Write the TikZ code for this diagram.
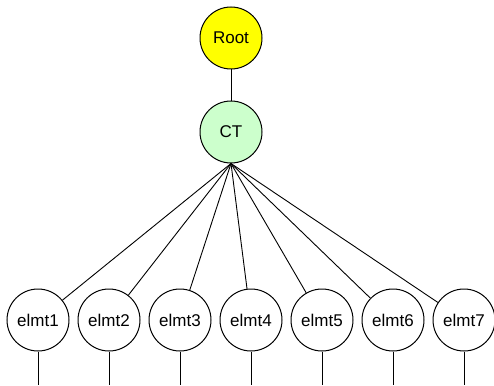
\documentclass[tikz,border=0pt]{standalone}
\usepackage{fontspec}
\setmainfont{Liberation Sans}
\definecolor{rootyellow}{RGB}{255,255,0}
\definecolor{ctgreen}{RGB}{204,255,204}
\begin{document}
\begin{tikzpicture}[x=1pt,y=-1pt,
  vertex/.style={circle,draw=black,line width=1pt,minimum size=62pt,inner sep=0pt,fill=white,font=\fontsize{17}{20}\selectfont},
  edge/.style={line width=0.9pt}]
\useasboundingbox (0,0) rectangle (494,385);
\node[vertex,fill=rootyellow] (root) at (231,38) {Root};
\node[vertex,fill=ctgreen] (ct) at (231,132) {CT};
\draw[edge] (root) -- (ct);
\foreach \i/\x in {1/38,2/109,3/180,4/251,5/322,6/393,7/464}{
  \node[vertex] (e\i) at (\x,320) {elmt\i};
  \coordinate (b\i) at (\x,385);
  \draw[edge] (ct.south) -- (e\i);
  \draw[edge] (e\i) -- (b\i);
}
\end{tikzpicture}
\end{document}
